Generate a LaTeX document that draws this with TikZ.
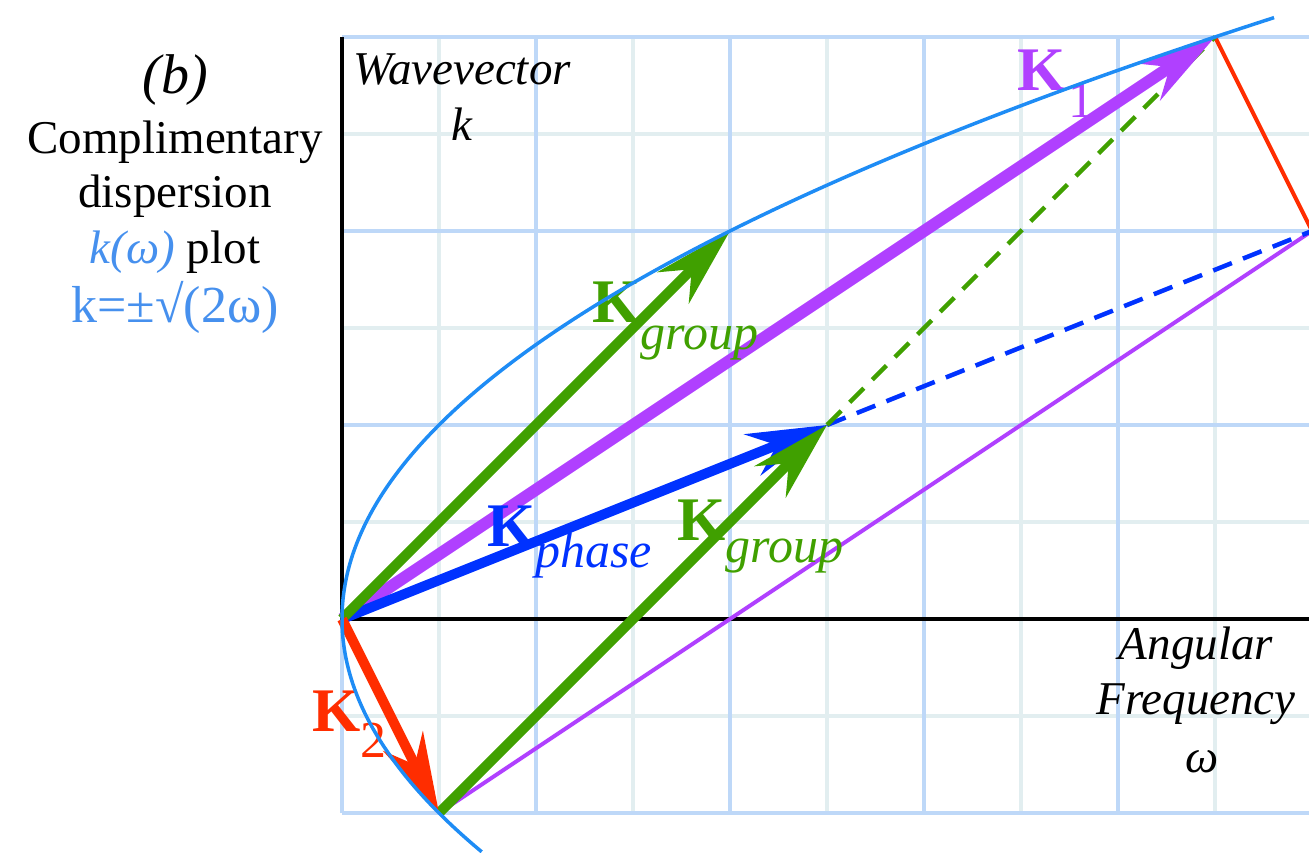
\documentclass[tikz,border=0pt]{standalone}
\usepackage{fontspec}
\setmainfont{Liberation Serif}
\usetikzlibrary{arrows.meta}
\definecolor{cPurple}{HTML}{B040FF}
\definecolor{cGreen}{HTML}{40A000}
\definecolor{cBlue}{HTML}{0032FF}
\definecolor{cRed}{HTML}{FF2D00}
\definecolor{cCurve}{HTML}{1E8CF5}
\definecolor{cText}{HTML}{4690EE}
\definecolor{cMajor}{HTML}{BED8F8}
\definecolor{cMinor}{HTML}{E2EEF0}
\begin{document}
\begin{tikzpicture}[x=194pt,y=194pt,
  minorgrid/.style={draw=cMinor, line width=3.5pt},
  majorgrid/.style={draw=cMajor, line width=4pt},
  axisline/.style={draw=black, line width=4pt},
  bigtip/.style={-{Stealth[length=80pt,width=44pt,inset=26pt]}},
  vec/.style={bigtip, line width=10pt},
  thinline/.style={line width=4pt},
  dashline/.style={line width=4.5pt, dash pattern=on 20pt off 12pt},
  curve/.style={draw=cCurve, line width=3.5pt},
  lbl/.style={inner sep=0pt, anchor=base, font=\fontsize{47}{56}\selectfont},
  klbl/.style={inner sep=0pt, anchor=base west},
]
\useasboundingbox (-1.76289,-1.20103) rectangle (4.98454,3.19072);

% named points
\coordinate (O) at (0,0);
\coordinate (K1) at (4.5,3);
\coordinate (K2) at (0.5,-1);
\coordinate (G) at (2,2);
\coordinate (P) at (2.5,1);
\coordinate (S) at (5,2);
\coordinate (Ytop) at (0,3);
\coordinate (Xend) at (5,0);

% grid
\draw[minorgrid] (0,-1) grid[step=0.5] (5,3);
\draw[majorgrid] (0,-1) grid[step=1] (5,3);

% axes
\draw[axisline] (Ytop) -- (O) -- (Xend);

% thin lines
\draw[thinline, cPurple] (K2) -- (S);
\draw[thinline, cRed] (K1) -- (S);

% dashed continuations
\draw[dashline, cBlue] (P) -- (S);
\draw[dashline, cGreen] (P) -- (K1);

% vectors
\draw[vec, cPurple, line width=12pt] (O) -- (K1);
\draw[vec, cBlue] (O) -- (P);
\draw[vec, cGreen] (O) -- (G);
\draw[vec, cGreen] (K2) -- (P);
\draw[vec, cRed] (O) -- (K2);

% vector labels
\node[klbl, text=cPurple] (lK1) at (3.479,2.722)
  {{\fontsize{62}{62}\selectfont\bfseries K}\kern3pt\raisebox{-27pt}{\fontsize{52}{52}\selectfont 1}};
\node[klbl, text=cRed] (lK2) at (-0.155,-0.582)
  {{\fontsize{62}{62}\selectfont\bfseries K}\raisebox{-26pt}{\fontsize{52}{52}\selectfont 2}};
\node[klbl, text=cGreen] (lKg1) at (1.289,1.526)
  {{\fontsize{62}{62}\selectfont\bfseries K}\raisebox{-27pt}{\fontsize{50}{50}\selectfont\itshape group}};
\node[klbl, text=cBlue] (lKp) at (0.747,0.376)
  {{\fontsize{62}{62}\selectfont\bfseries K}\raisebox{-21pt}{\fontsize{50}{50}\selectfont\itshape phase}};
\node[klbl, text=cGreen] (lKg2) at (1.727,0.407)
  {{\fontsize{62}{62}\selectfont\bfseries K}\raisebox{-22pt}{\fontsize{50}{50}\selectfont\itshape group}};

% axis labels
\node[lbl] (wv) at (0.6186,2.753) {\itshape Wavevector};
\node[lbl] (wk) at (0.6186,2.464) {\itshape k};
\node[lbl] (ang) at (4.402,-0.2113) {\itshape Angular};
\node[lbl] (freq) at (4.402,-0.4948) {\itshape Frequency};
\node[lbl] (om) at (4.433,-0.7887) {\itshape ω};

% side text
\node[lbl, font=\fontsize{56}{60}\selectfont] (tb) at (-0.8608,2.711) {\itshape (b)};
\node[lbl] (t1) at (-0.8608,2.402) {Complimentary};
\node[lbl] (t2) at (-0.8608,2.119) {dispersion};
\node[lbl] (t3) at (-0.8608,1.835) {\textcolor{cText}{\itshape k(ω)} plot};
\node[lbl, text=cText, font=\fontsize{52}{56}\selectfont] (t4) at (-0.8608,1.526) {k=±√(2ω)};

% dispersion curve
\draw[curve] plot[domain=-1.2:3.1, samples=120, smooth] ({0.5*\x*\x},\x);
\end{tikzpicture}
\end{document}
